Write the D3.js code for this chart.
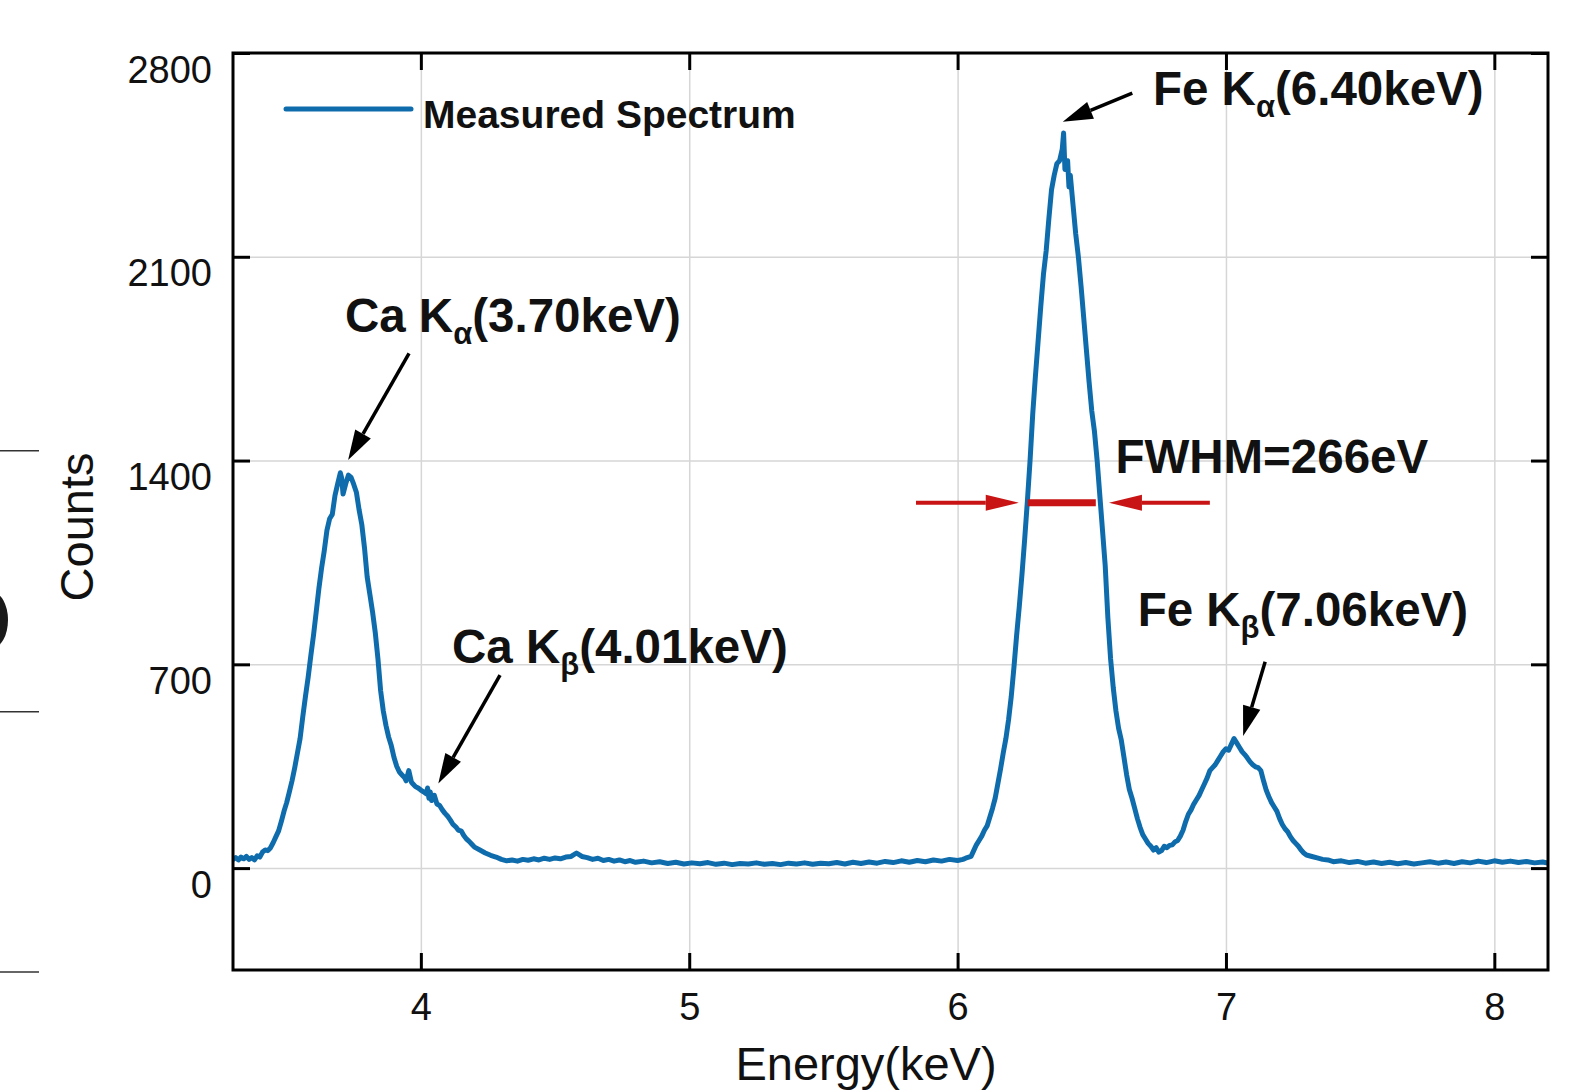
<!DOCTYPE html>
<html><head><meta charset="utf-8">
<script src="https://cdn.jsdelivr.net/npm/d3@7"></script>
<style>
body{margin:0;background:#fff;}
svg{display:block;font-family:"Liberation Sans",Arial,Helvetica,sans-serif;}
</style>
</head><body>
<svg id="chart" width="1590" height="1091"></svg>
<script>
// ---------- data ----------
const energyKeV = [
 3.30,3.31,3.32,3.33,3.34,3.35,3.36,3.37,3.38,3.39,
 3.40,3.41,3.42,3.43,3.44,3.45,3.46,3.47,3.48,3.49,
 3.50,3.51,3.52,3.53,3.54,3.55,3.56,3.57,3.58,3.59,
 3.60,3.61,3.62,3.63,3.64,3.65,3.66,3.67,3.68,3.69,
 3.70,3.705,3.71,3.72,3.73,3.74,3.75,3.76,3.77,3.78,
 3.79,3.80,3.81,3.82,3.83,3.84,3.85,3.86,3.87,3.88,
 3.89,3.90,3.91,3.92,3.93,3.94,3.945,3.955,3.965,3.97,
 3.98,3.99,4.00,4.01,4.02,4.025,4.03,4.035,4.04,4.05,
 4.06,4.07,4.08,4.09,4.10,4.11,4.12,4.13,4.14,4.15,
 4.16,4.17,4.18,4.19,4.20,4.22,4.24,4.26,4.28,4.30,
 4.32,4.34,4.36,4.38,4.40,4.42,4.44,4.46,4.48,4.50,
 4.52,4.54,4.56,4.58,4.60,4.62,4.64,4.66,4.68,4.70,
 4.72,4.74,4.76,4.78,4.80,4.83,4.86,4.89,4.92,4.95,
 4.98,5.01,5.04,5.07,5.10,5.13,5.16,5.19,5.22,5.25,
 5.28,5.31,5.34,5.37,5.40,5.43,5.46,5.49,5.52,5.55,
 5.58,5.61,5.64,5.67,5.70,5.73,5.76,5.79,5.82,5.85,
 5.88,5.91,5.94,5.97,6.00,6.02,6.03,6.05,6.06,6.07,
 6.08,6.09,6.10,6.11,6.12,6.13,6.14,6.15,6.16,6.17,
 6.18,6.19,6.20,6.21,6.22,6.23,6.24,6.25,6.26,6.27,
 6.28,6.29,6.30,6.31,6.32,6.33,6.34,6.35,6.36,6.37,
 6.38,6.39,6.395,6.40,6.41,6.415,6.42,6.43,6.44,6.45,
 6.46,6.47,6.48,6.49,6.50,6.51,6.52,6.53,6.54,6.55,
 6.56,6.57,6.58,6.59,6.60,6.61,6.62,6.63,6.64,6.65,
 6.66,6.67,6.68,6.69,6.70,6.71,6.72,6.73,6.74,6.75,
 6.76,6.77,6.78,6.79,6.80,6.81,6.82,6.83,6.84,6.85,
 6.86,6.87,6.88,6.89,6.90,6.91,6.92,6.93,6.94,6.95,
 6.96,6.97,6.98,6.99,7.00,7.01,7.02,7.03,7.04,7.05,
 7.06,7.07,7.08,7.09,7.10,7.11,7.12,7.13,7.14,7.15,
 7.16,7.17,7.18,7.19,7.20,7.21,7.22,7.23,7.24,7.25,
 7.26,7.27,7.28,7.29,7.30,7.32,7.34,7.36,7.38,7.40,
 7.43,7.46,7.49,7.52,7.55,7.58,7.61,7.64,7.67,7.70,
 7.73,7.76,7.79,7.82,7.85,7.88,7.91,7.94,7.97,8.00,
 8.03,8.06,8.09,8.12,8.15,8.18,8.20
];
const counts = [
 30,36,28,38,32,40,30,36,28,42,
 38,55,62,60,70,88,108,128,160,195,
 225,262,300,345,395,445,520,590,655,730,
 800,880,960,1030,1090,1160,1200,1215,1280,1320,
 1358,1340,1285,1320,1350,1342,1318,1290,1230,1180,
 1100,1000,940,880,810,720,610,540,490,450,
 420,380,350,330,320,310,300,335,295,290,
 280,275,268,262,255,275,240,262,232,250,
 220,215,200,188,178,165,150,142,130,128,
 112,100,92,82,72,62,52,44,38,30,
 25,28,24,30,27,32,28,34,30,35,
 32,38,40,52,40,36,30,34,26,30,
 24,28,22,26,20,24,18,22,16,20,
 14,18,15,19,13,17,12,16,14,18,
 13,16,12,17,14,18,13,17,15,19,
 14,20,16,21,17,23,19,25,20,26,
 22,28,24,30,26,30,34,40,60,80,
 95,110,130,145,175,205,240,290,340,395,
 445,510,590,690,800,900,1010,1130,1260,1400,
 1560,1690,1810,1930,2040,2120,2230,2330,2380,2420,
 2430,2470,2525,2400,2430,2340,2380,2280,2180,2100,
 2000,1890,1780,1670,1570,1500,1400,1280,1160,1040,
 860,720,620,540,480,440,380,320,270,240,
 205,170,140,115,100,85,75,62,70,55,
 60,75,70,78,80,90,95,110,130,160,
 185,200,220,235,250,270,290,310,335,345,
 355,370,385,400,410,405,425,445,430,415,
 400,390,378,365,355,348,345,335,300,268,
 245,225,210,195,170,150,135,125,108,95,
 85,75,62,52,45,40,35,30,28,22,
 25,19,23,17,21,16,20,15,19,14,
 18,22,17,21,16,22,18,24,19,25,
 20,24,19,23,18,21,17
];
const xTicks = [4, 5, 6, 7, 8];
const yTicks = [0, 700, 1400, 2100, 2800];
const xDomain = [3.3, 8.2];
const yDomain = [-350, 2800];
const seriesName = "Measured Spectrum";
const xTitle = "Energy(keV)";
const yTitle = "Counts";
// peak label texts: element + line, subscript, energy
const peakMain = ["Ca K", "Ca K", "Fe K", "Fe K"];
const peakSub  = ["α", "β", "α", "β"];
const peakRest = ["(3.70keV)", "(4.01keV)", "(6.40keV)", "(7.06keV)"];
const fwhmText = "FWHM=266eV";
const fwhmLevel = 1255;           // counts at which the width is marked
const fwhmEdges = [6.261, 6.515]; // keV

// ---------- layout (data coordinates of annotation anchors) ----------
const labelAnchor = [[3.717,1843],[4.116,703],[6.728,2621],[6.671,832]];
const arrowTail   = [[3.956,1768],[4.295,663],[6.651,2662],[7.146,709]];
const arrowTip    = [[3.729,1402],[4.065,291],[6.392,2564],[7.064,454]];
const fwhmLabelAnchor = [6.588, 1356];
const fwhmOuter = [5.845, 6.940];
const fwhmTips  = [6.228, 6.564];

const W = 1590, H = 1091;
const L = 233, R = 1548, T = 53, B = 970;
const blue = "#0f6cac", red = "#c81414";

const svg = d3.select("#chart");
const x = d3.scaleLinear().domain(xDomain).range([L, R]);
const y = d3.scaleLinear().domain(yDomain).range([B, T]);

// stray fragments at the left edge of the reference crop
const frag = svg.append("g");
[450.7, 711.7, 972].forEach(v => frag.append("line")
  .attr("x1",0).attr("x2",39).attr("y1",v).attr("y2",v)
  .attr("stroke","#333").attr("stroke-width",1.5));
frag.append("ellipse").attr("cx",-8).attr("cy",620).attr("rx",16).attr("ry",28).attr("fill","#1a1a1a");

// grid
const grid = svg.append("g");
grid.append("g").attr("transform",`translate(0,${B})`)
  .call(d3.axisBottom(x).tickValues(xTicks).tickSize(-(B-T)).tickFormat(""))
  .call(g=>{g.select(".domain").remove(); g.selectAll("line").attr("stroke","#d6d6d6").attr("stroke-width",1.5);});
grid.append("g").attr("transform",`translate(${L},0)`)
  .call(d3.axisLeft(y).tickValues(yTicks).tickSize(-(R-L)).tickFormat(""))
  .call(g=>{g.select(".domain").remove(); g.selectAll("line").attr("stroke","#d6d6d6").attr("stroke-width",1.5);});

// spectrum
svg.append("clipPath").attr("id","clip").append("rect")
  .attr("x",L).attr("y",T).attr("width",R-L).attr("height",B-T);
const pts = energyKeV.map((e,i)=>[e, counts[i]]);
svg.append("path").datum(pts)
  .attr("clip-path","url(#clip)")
  .attr("fill","none").attr("stroke",blue).attr("stroke-width",5)
  .attr("stroke-linejoin","round").attr("stroke-linecap","round")
  .attr("d", d3.line().x(d=>x(d[0])).y(d=>y(d[1])));

// axes: ticks inside on all four sides
const tickLen = 17;
function styleAxis(g){
  g.select(".domain").remove();
  g.selectAll(".tick line").attr("stroke","#000").attr("stroke-width",3);
}
svg.append("g").attr("transform",`translate(0,${B})`)
  .call(d3.axisBottom(x).tickValues(xTicks).tickSize(-tickLen).tickFormat(d3.format("d")))
  .call(styleAxis)
  .call(g=>g.selectAll("text").attr("y",50).attr("dy",0)
     .attr("font-size",38).attr("fill","#111").attr("font-family",null));
svg.append("g").attr("transform",`translate(0,${T})`)
  .call(d3.axisTop(x).tickValues(xTicks).tickSize(-tickLen).tickFormat(""))
  .call(styleAxis);
svg.append("g").attr("transform",`translate(${L},0)`)
  .call(d3.axisLeft(y).tickValues(yTicks).tickSize(-tickLen).tickPadding(21).tickFormat(d3.format("d")))
  .call(styleAxis)
  .call(g=>g.selectAll("text").attr("y",29).attr("dy",0)
     .attr("font-size",38).attr("fill","#111").attr("font-family",null));
svg.append("g").attr("transform",`translate(${R},0)`)
  .call(d3.axisRight(y).tickValues(yTicks).tickSize(-tickLen).tickFormat(""))
  .call(styleAxis);

// frame
svg.append("rect").attr("x",L).attr("y",T).attr("width",R-L).attr("height",B-T)
  .attr("fill","none").attr("stroke","#000").attr("stroke-width",3);

// axis titles
svg.append("text").attr("x",866).attr("y",1080).attr("text-anchor","middle")
  .attr("font-size",47).attr("fill","#111").text(xTitle);
svg.append("text").attr("transform","translate(93,527) rotate(-90)").attr("text-anchor","middle")
  .attr("font-size",47).attr("fill","#111").text(yTitle);

// legend
svg.append("line").attr("x1",286).attr("x2",411).attr("y1",109).attr("y2",109)
  .attr("stroke",blue).attr("stroke-width",5).attr("stroke-linecap","round");
svg.append("text").attr("x",423).attr("y",128).attr("font-size",39).attr("font-weight","bold")
  .attr("fill","#111").text(seriesName);

// arrows
function arrow(g, x1, y1, x2, y2, color, len, hw, sw){
  const a = Math.atan2(y2-y1, x2-x1);
  const bx = x2 - len*Math.cos(a), by = y2 - len*Math.sin(a);
  g.append("line").attr("x1",x1).attr("y1",y1).attr("x2",bx).attr("y2",by)
    .attr("stroke",color).attr("stroke-width",sw);
  const px = -Math.sin(a)*hw, py = Math.cos(a)*hw;
  g.append("path").attr("d",`M${x2},${y2}L${bx+px},${by+py}L${bx-px},${by-py}Z`).attr("fill",color);
}

// peak annotations
const ann = svg.append("g");
peakMain.forEach((m,i)=>{
  const t = ann.append("text").attr("x",x(labelAnchor[i][0])).attr("y",y(labelAnchor[i][1]))
    .attr("font-size",47.5).attr("font-weight","bold").attr("fill","#111");
  t.append("tspan").text(m);
  t.append("tspan").attr("font-size",31).attr("dy",12).text(peakSub[i]);
  t.append("tspan").attr("dy",-12).text(peakRest[i]);
  arrow(ann, x(arrowTail[i][0]), y(arrowTail[i][1]), x(arrowTip[i][0]), y(arrowTip[i][1]), "#000", 30, 9, 3.5);
});

// FWHM marker
const fy = y(fwhmLevel);
arrow(ann, x(fwhmOuter[0]), fy, x(fwhmTips[0]), fy, red, 33, 8, 4);
arrow(ann, x(fwhmOuter[1]), fy, x(fwhmTips[1]), fy, red, 33, 8, 4);
ann.append("line").attr("x1",x(fwhmEdges[0])).attr("x2",x(fwhmEdges[1])).attr("y1",fy).attr("y2",fy)
  .attr("stroke",red).attr("stroke-width",7);
ann.append("text").attr("x",x(fwhmLabelAnchor[0])).attr("y",y(fwhmLabelAnchor[1]))
  .attr("font-size",47.5).attr("font-weight","bold").attr("fill","#111").text(fwhmText);
</script>
</body></html>
